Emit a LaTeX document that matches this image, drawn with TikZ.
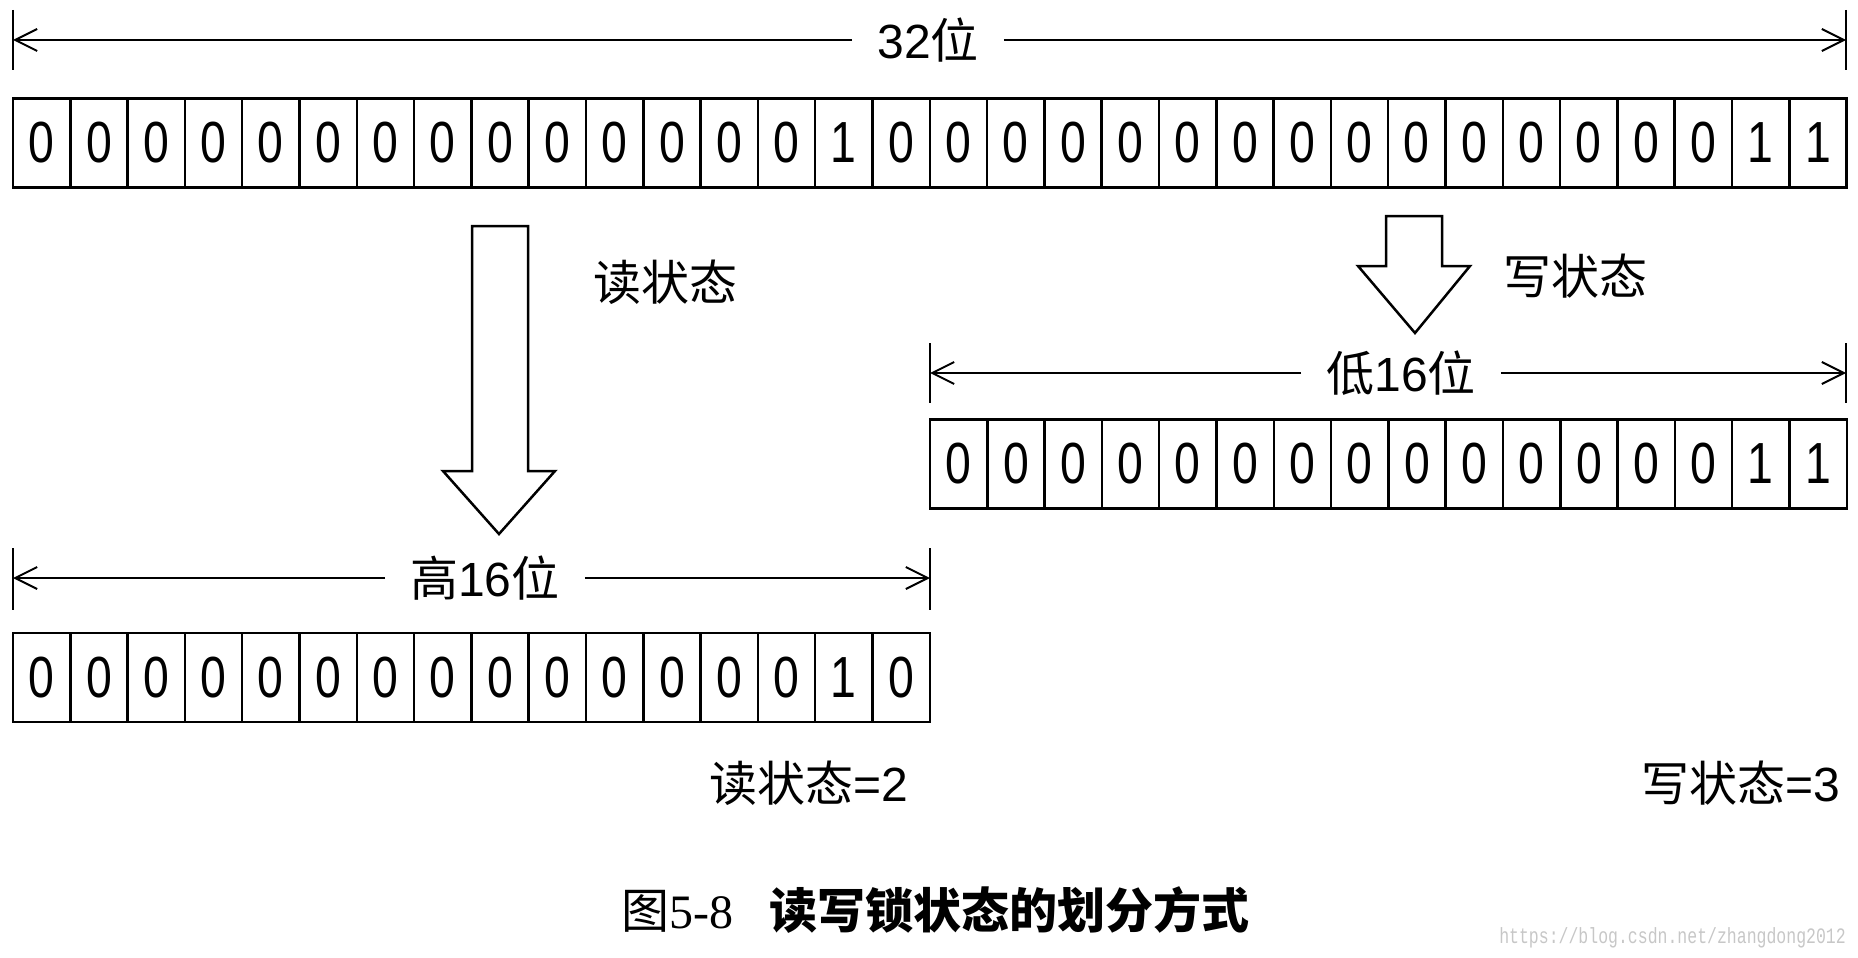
\documentclass[tikz,border=0pt]{standalone}
\usepackage{fontspec}
\setmainfont{Liberation Sans}
\newfontfamily\cjk{Noto Sans CJK SC}
\newfontfamily\capserif{Liberation Serif}
\newfontfamily\wmfont{Liberation Mono}
\usetikzlibrary{arrows.meta, positioning}
\newcommand{\zh}[1]{{\cjk #1}}
\newcommand{\bit}[1]{\scalebox{0.8}[1]{#1}}

\begin{document}
\begin{tikzpicture}[
    x=1pt, y=-1pt,
    bit_cell/.style={draw, line width=2.5pt, minimum width=57.3pt, minimum height=89pt, inner sep=0pt, font=\fontsize{58}{60}\selectfont},
    dim_tick/.style={line width=2.5pt},
    dim_line/.style={line width=2pt, -{Straight Barb[length=22pt, width=22pt]}},
    dim_label/.style={inner xsep=25pt, inner ysep=0pt, font=\fontsize{48}{50}\selectfont},
    block_arrow/.style={draw, line width=2.5pt, line join=miter},
    state_label/.style={font=\fontsize{48}{50}\selectfont}
]
\useasboundingbox (0,0) rectangle (1858,958);

% --- 32 bits ---
\foreach \b [count=\i] in {0,0,0,0,0,0,0,0,0,0,0,0,0,0,1,0,0,0,0,0,0,0,0,0,0,0,0,0,0,0,1,1}
    \node[bit_cell] (t\i) at ({13+57.3*(\i-0.5)}, 143) {\bit{\b}};

\coordinate (top_l) at (13,40);
\coordinate (top_r) at (1846,40);
\draw[dim_tick] (top_l) ++(0,-30) -- ++(0,60);
\draw[dim_tick] (top_r) ++(0,-30) -- ++(0,60);
\node[dim_label] (w32) at (928,40) {32\zh{位}};
\draw[dim_line] (w32.west) -- (top_l);
\draw[dim_line] (w32.east) -- (top_r);

% --- Read state (high 16 bits) ---
\draw[block_arrow] (472,226) -- (528,226) -- (528,471) -- (555,471) -- (499,534) -- (443,471) -- (472,471) -- cycle;
\node[state_label] (rd) at (665,282) {\zh{读状态}};

\coordinate (hi_l) at (13,578);
\coordinate (hi_r) at (930,578);
\draw[dim_tick] (hi_l) ++(0,-30) -- ++(0,62);
\draw[dim_tick] (hi_r) ++(0,-30) -- ++(0,62);
\node[dim_label] (w_hi) at (485,578) {\zh{高}16\zh{位}};
\draw[dim_line] (w_hi.west) -- (hi_l);
\draw[dim_line] (w_hi.east) -- (hi_r);

\foreach \b [count=\i] in {0,0,0,0,0,0,0,0,0,0,0,0,0,0,1,0}
    \node[bit_cell] (h\i) at ({13+57.3*(\i-0.5)}, 677.5) {\bit{\b}};

\node[state_label, anchor=east] (rd_val) at (912,783) {\zh{读状态}=2};

% --- Write state (low 16 bits) ---
\draw[block_arrow] (1386,216) -- (1442,216) -- (1442,266) -- (1470,266) -- (1415,333) -- (1358,266) -- (1386,266) -- cycle;
\node[state_label] (wr) at (1575,276) {\zh{写状态}};

\coordinate (lo_l) at (930,373);
\coordinate (lo_r) at (1846,373);
\draw[dim_tick] (lo_l) ++(0,-30) -- ++(0,60);
\draw[dim_tick] (lo_r) ++(0,-30) -- ++(0,60);
\node[dim_label] (w_lo) at (1401,373) {\zh{低}16\zh{位}};
\draw[dim_line] (w_lo.west) -- (lo_l);
\draw[dim_line] (w_lo.east) -- (lo_r);

\foreach \b [count=\i] in {0,0,0,0,0,0,0,0,0,0,0,0,0,0,1,1}
    \node[bit_cell] (l\i) at ({930+57.3*(\i-0.5)}, 464) {\bit{\b}};

\node[state_label, anchor=east] (wr_val) at (1844,783) {\zh{写状态}=3};

% --- Caption ---
\node[anchor=west, inner sep=0pt, font=\fontsize{48}{50}\selectfont] (cap) at (621,910)
    {\zh{图}{\capserif 5-8}\hspace{36pt}{\cjk\bfseries 读写锁状态的划分方式}};
\node[anchor=east, inner sep=0pt, text=black!22, font=\wmfont\fontsize{22}{24}\selectfont] (wm) at (1846,938)
    {\scalebox{0.75}[1]{https://blog.csdn.net/zhangdong2012}};

\end{tikzpicture}
\end{document}
